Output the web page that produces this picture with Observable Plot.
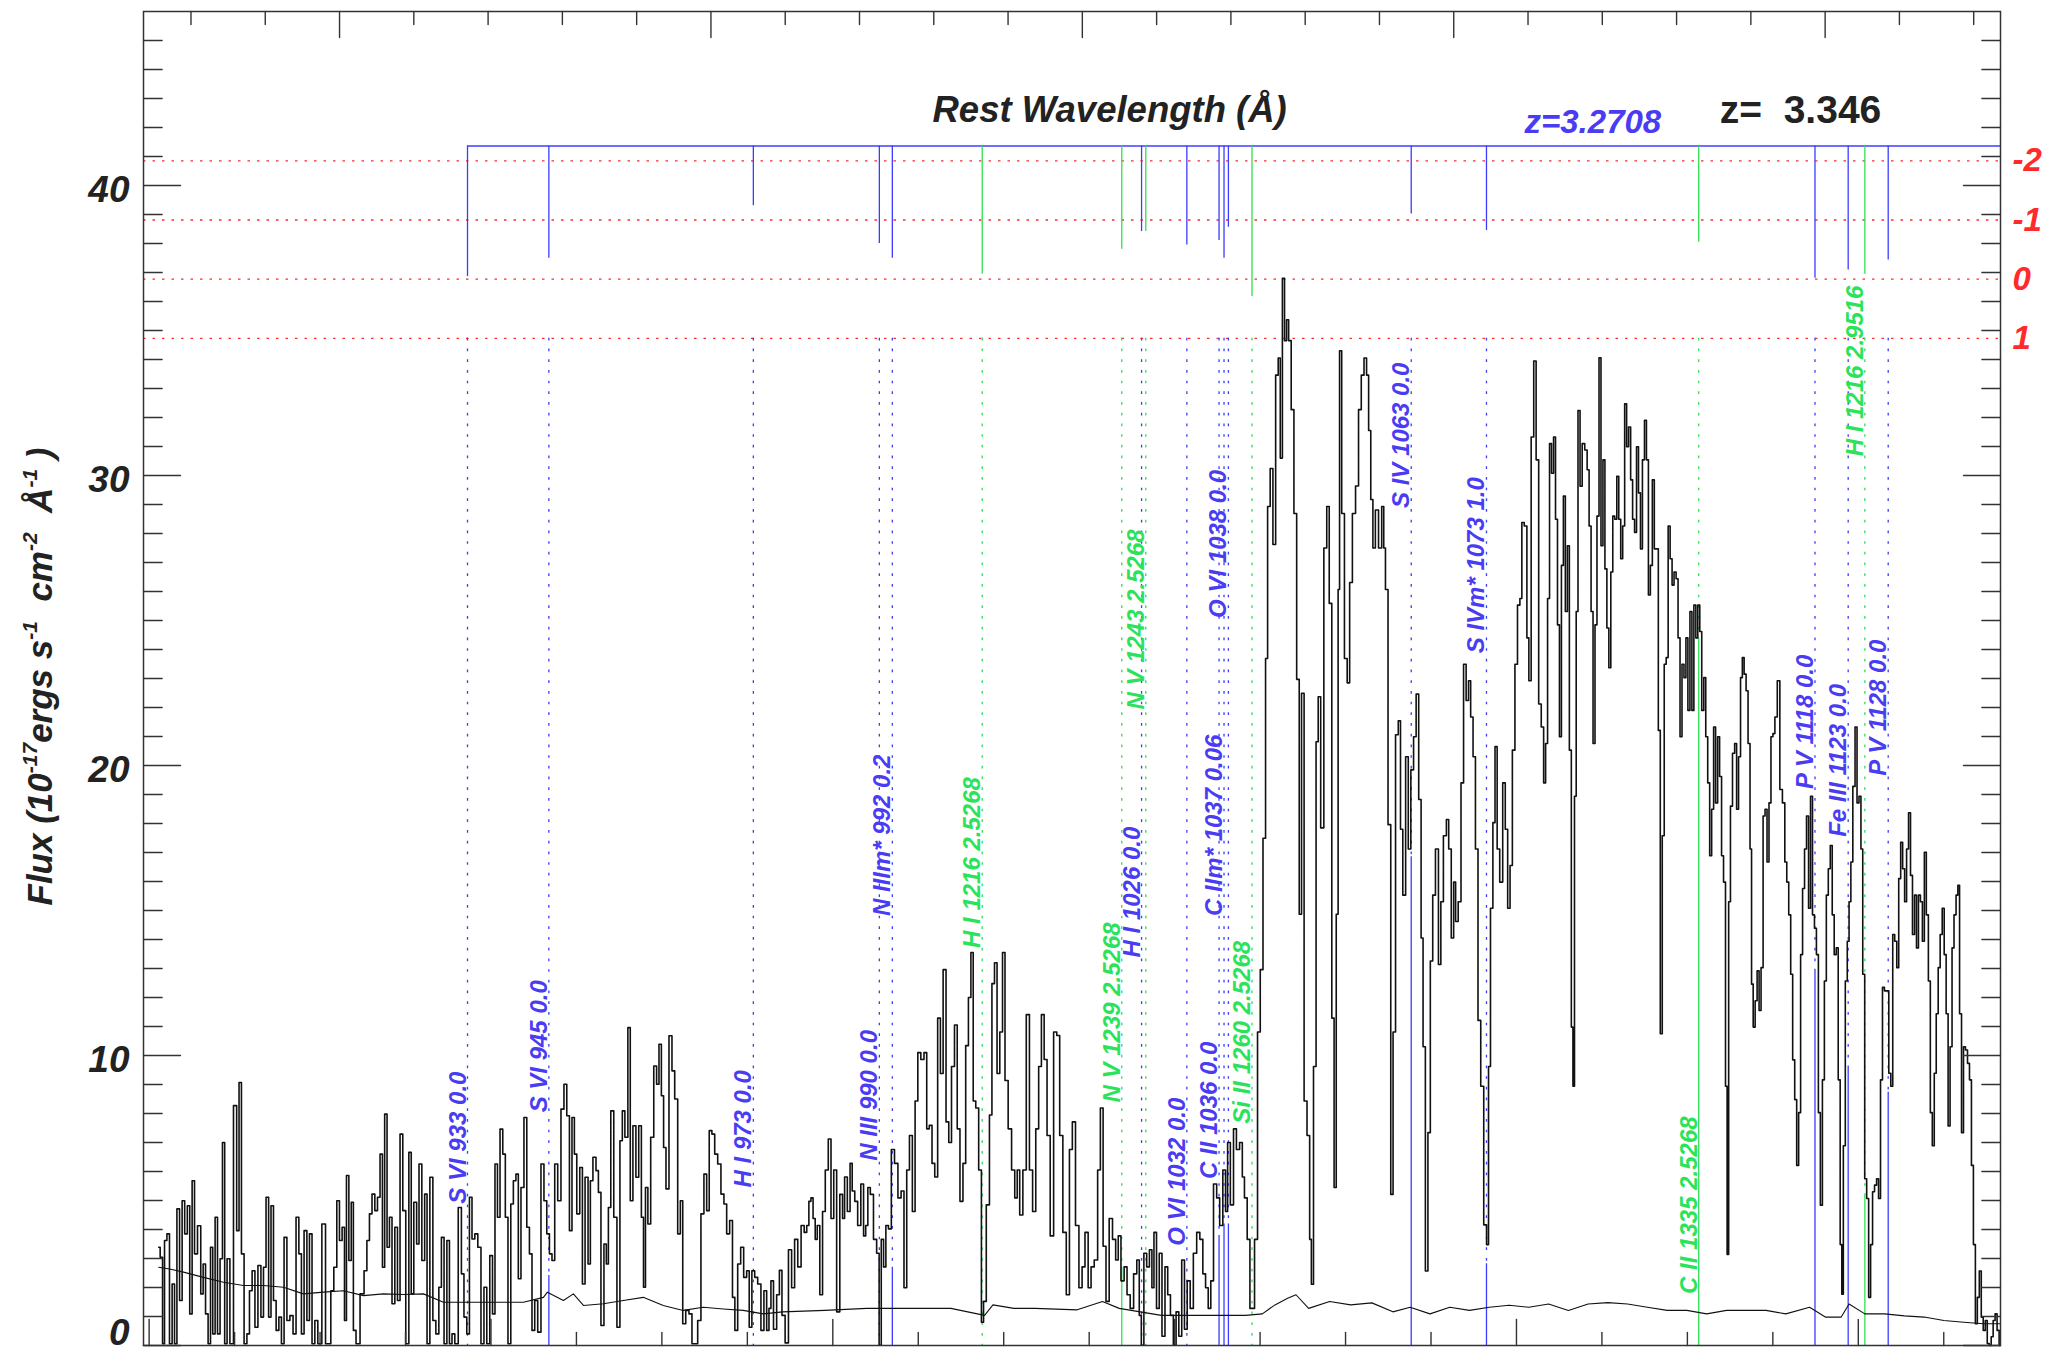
<!DOCTYPE html>
<html><head><meta charset="utf-8">
<script src="https://cdn.jsdelivr.net/npm/d3@7"></script>
<script src="https://cdn.jsdelivr.net/npm/@observablehq/plot@0.6"></script>
<style>html,body{margin:0;padding:0;background:#fff;} svg{display:block;}</style>
</head><body><div id="chart"></div>
<script>
// ---------------- data ----------------
// observed wavelength (Å) and flux (1e-17 erg/s/cm2/Å) of the spectrum
const specWave = [
3805.6,3807.3,3808.4,3809.6,3811.2,3812.6,3814.3,3815.4,3817.1,3818.5,
3820.1,3821.5,3823.2,3824.3,3826.0,3827.1,3829.5,3830.9,3832.3,3833.7,
3835.3,3836.5,3837.9,3839.3,3840.7,3842.3,3843.5,3844.9,3846.3,3848.2,
3850.5,3851.9,3853.3,3854.7,3856.4,3858.0,3859.4,3861.1,3862.7,3864.6,
3866.2,3867.6,3869.2,3870.6,3872.0,3873.5,3875.1,3876.7,3878.1,3879.8,
3881.4,3883.3,3885.1,3886.8,3888.4,3889.8,3891.5,3893.1,3894.5,3896.1,
3897.8,3899.6,3902.5,3903.9,3905.5,3907.1,3909.0,3910.6,3912.1,3913.7,
3914.9,3916.0,3917.7,3918.8,3920.2,3921.9,3924.9,3926.6,3928.2,3929.6,
3931.2,3932.9,3934.3,3935.9,3937.1,3938.5,3939.9,3941.3,3942.9,3944.6,
3946.0,3947.6,3949.2,3951.1,3952.8,3953.9,3955.8,3957.2,3958.6,3960.5,
3961.9,3963.3,3965.2,3966.8,3968.7,3970.3,3971.7,3973.4,3975.0,3976.4,
3978.0,3979.7,3982.0,3983.4,3985.0,3986.7,3988.1,3989.7,3991.4,3993.2,
3995.1,3996.7,3998.4,4000.2,4001.6,4003.1,4004.5,4006.1,4007.7,4009.1,
4010.8,4012.4,4013.8,4015.4,4016.6,4018.5,4020.1,4021.8,4023.2,4024.8,
4026.4,4028.3,4030.2,4031.8,4033.5,4034.9,4036.5,4038.1,4040.0,4041.9,
4043.5,4045.2,4046.6,4048.2,4049.4,4051.0,4052.9,4054.1,4056.0,4057.6,
4058.7,4060.6,4062.3,4063.4,4065.3,4066.9,4068.1,4069.3,4070.9,4072.8,
4074.6,4076.3,4077.4,4079.3,4080.9,4082.1,4084.0,4085.6,4087.3,4088.7,
4089.8,4091.0,4092.6,4094.3,4096.2,4097.6,4099.0,4100.4,4101.6,4103.2,
4105.1,4106.7,4108.3,4110.2,4111.4,4113.0,4114.9,4116.8,4118.4,4120.0,
4121.9,4123.8,4125.4,4127.0,4128.4,4130.1,4131.7,4133.6,4135.5,4137.1,
4138.7,4140.6,4142.0,4143.4,4145.3,4146.9,4148.8,4150.4,4151.8,4153.5,
4155.1,4157.0,4158.9,4160.5,4162.1,
4163.2,4164.4,4166.2,4168.1,4169.4,4171.1,4173.1,4175.0,4176.8,4178.5,
4180.5,4182.4,4184.1,4185.4,4186.6,4187.8,4189.1,4190.3,4191.5,4193.3,
4194.7,4196.5,4198.2,4199.7,4201.4,4203.1,4205.1,4206.3,4207.5,4209.5,
4210.7,4212.0,4213.7,4215.4,4217.4,4218.6,4219.9,4221.1,4222.8,4224.8,
4226.5,4227.7,4229.0,4230.4,4231.7,4233.4,4235.1,4237.1,4239.1,4240.8,
4242.5,4244.0,4245.7,4247.4,4248.9,4250.6,4252.4,4254.3,4255.6,4257.3,
4258.8,4260.5,4262.2,4263.7,4265.4,4267.1,4268.6,4270.3,4272.1,4273.5,
4275.3,4277.0,4278.5,4280.2,4281.4,4282.9,4284.4,4286.3,4287.6,4288.8,
4290.8,4292.5,4293.7,4295.5,4296.7,4298.7,4299.9,4301.6,4303.6,4305.6,
4307.3,4308.5,4310.2,4312.2,4314.2,4315.9,4317.9,4319.6,4321.3,4322.8,
4324.5,4326.2,4328.2,4330.2,4331.9,4333.6,4335.6,4337.6,4339.3,4341.0,
4343.0,4345.0,4346.7,4348.4,4350.4,4351.8,4354.1,4355.8,4357.3,4359.0,
4360.7,4362.7,4364.6,4366.4,4367.6,4369.6,4371.3,4373.0,4375.0,4377.0,
4378.7,4379.9,4381.1,4382.9,4384.4,4386.1,4387.3,4388.5,4390.3,4391.7,
4393.5,4395.2,4396.7,4398.4,4400.1,4401.6,4403.3,4405.0,4406.5,4408.2,
4410.0,4411.9,4413.9,4415.6,4417.4,4418.8,4420.5,4421.8,4423.7,4425.5,
4427.2,4429.2,4430.4,4431.6,4433.6,4435.3,4437.0,4439.0,4440.2,4441.5,
4443.4,4444.7,4445.9,4447.6,4449.4,4450.8,4452.6,4453.8,4455.0,4456.8,
4458.2,4460.0,4461.2,4462.4,4463.7,4464.9,4466.1,4467.3,4469.1,4470.5,
4472.3,4473.5,4475.0,4476.5,4478.4,4479.6,4480.4,4482.1,4483.4,4484.6,
4486.3,4488.3,4489.7,4491.2,4492.7,4493.9,4495.2,4496.1,4496.9,4498.6,
4500.1,4501.8,4503.0,4505.0,4506.7,4508.5,4509.9,4511.7,4512.9,4514.1,
4515.4,4516.6,4518.3,4520.3,4522.0,4522.7,4524.0,4525.7,4527.2,4528.4,
4530.1,4531.6,
4532.7,4534.3,4536.0,4537.4,4539.0,4540.6,4542.0,4543.6,4544.8,4545.9,
4547.5,4548.9,4550.3,4551.7,4553.5,4555.2,4556.3,4558.2,4559.8,4560.9,
4562.8,4563.7,4565.1,4566.7,4568.4,4569.7,4571.4,4572.5,4573.9,4575.3,
4576.7,4578.3,4579.9,4581.8,4583.2,4584.1,4585.5,4586.9,4588.0,4589.4,
4591.0,4592.9,4594.0,4595.7,4596.8,4598.4,4599.8,4601.4,4602.6,4603.7,
4605.4,4606.8,4607.7,4609.5,4610.7,4612.3,4613.7,4615.3,4616.5,4617.6,
4618.8,4619.9,4621.1,4622.3,4623.4,4624.6,4625.7,4626.9,4628.0,4629.2,
4630.4,4631.5,4632.7,4633.4,4634.5,4635.4,4636.6,4637.8,4639.1,4640.8,
4641.9,4643.1,4644.2,4645.4,4646.5,4647.7,4648.9,4650.0,4651.2,4652.3,
4653.5,4654.6,4655.8,4656.9,4658.1,4659.3,4660.4,4661.6,4662.7,4663.9,
4665.0,4666.2,4667.4,4668.5,4669.7,4670.8,4672.0,4673.1,4674.3,4675.5,
4676.6,4677.8,4678.9,4680.1,4681.2,4682.4,4683.6,4684.7,4685.9,4687.0,
4688.2,4689.3,4690.5,4691.6,4692.8,4694.0,4695.1,4696.3,4697.4,4698.6,
4699.7,4700.9,4702.1,4703.2,4704.4,4705.5,4706.7,4707.8,4709.0,4710.2,
4711.3,4712.5,4713.6,4714.8,4715.9,4717.1,4718.3,4719.4,4720.6,4721.7,
4722.9,4723.6,4724.7,4725.7,4727.1,4728.2,4729.4,4730.5,4731.7,4732.6,
4733.8,4734.9,4736.1,4737.2,4737.9,4739.1,4740.2,4741.4,4742.5,4743.7,
4744.9,4746.0,4747.2,4748.3,4749.5,4750.6,4751.8,4753.4,4754.8,4756.4,
4757.6,4758.7,4759.9,4761.0,4762.2,4763.4,4764.5,4765.7,4766.8,4768.0,
4769.1,4770.3,4771.5,4772.6,4773.8,4774.9,4776.1,4777.2,4778.4,4779.6,
4780.7,4781.9,4783.0,4784.2,4785.3,4786.5,4787.7,4788.8,4790.0,4790.7,
4791.8,4793.0,4794.1,4795.1,4796.2,4797.4,4798.8,4799.7,4801.1,4802.0,
4803.2,4804.3,4805.5,4806.6,4807.8,4808.9,4810.1,4811.3,4812.4,4813.6,
4814.7,4815.9,4817.3,4818.4,4819.6,4820.7,4821.9,4823.1,4824.2,4825.4,
4826.5,4827.7,4828.8,4830.0,4831.1,4832.3,4833.5,4834.6,4835.8,4836.9,
4838.1,4839.2,4840.4,4841.6,4842.7,4843.9,4845.0,4846.2,4847.3,4848.5,
4849.7,4850.8,4852.0,4853.1,4854.3,4855.4,4856.6,4857.8,4858.7,4859.8,
4861.0,4862.1,4863.3,4864.5,4865.6,4866.8,4867.9,4869.1,4870.2,4871.4,
4872.5,4873.7,4874.9,4876.0,4877.2,4878.3,4879.5,4880.6,4881.8,4883.0
];
const specFlux = [
3.39,3.04,0.06,3.62,3.85,0.06,2.12,0.06,4.71,1.55,
4.99,3.85,4.82,1.09,5.68,3.16,4.13,1.78,2.81,1.09,
0.06,3.39,0.40,4.42,0.40,2.99,7.00,0.06,2.99,0.06,
8.27,3.96,9.07,3.16,0.06,0.40,1.89,2.58,0.63,2.76,
0.98,2.70,5.11,0.98,4.82,1.55,0.52,0.98,0.06,3.73,
0.86,1.03,0.40,4.42,3.16,0.40,3.96,0.86,3.85,0.06,
0.86,0.06,4.19,0.06,0.06,1.89,2.70,4.99,3.62,4.08,
0.86,5.86,2.93,4.94,0.52,0.06,1.78,2.58,3.62,4.54,
5.22,4.65,5.11,6.60,2.70,7.98,3.39,4.42,1.44,4.08,
1.55,7.29,4.65,0.06,6.66,1.78,4.94,3.50,6.26,2.93,
5.22,0.06,5.80,0.86,0.40,2.01,3.73,0.06,3.62,0.06,
0.40,0.06,4.76,2.47,0.98,0.40,5.11,3.67,3.85,3.39,
0.06,2.01,0.06,3.10,1.09,6.26,4.42,7.46,6.60,4.42,
0.06,4.88,5.68,5.91,2.30,5.45,7.86,4.08,3.16,0.52,
1.55,0.46,6.26,4.99,3.85,3.16,2.93,6.26,4.99,8.15,
9.01,7.92,3.96,7.86,6.60,4.54,6.14,2.12,5.80,2.81,
5.68,6.49,6.03,5.28,0.69,3.50,2.81,4.76,8.09,4.42,
0.63,7.06,8.09,7.18,10.96,4.99,7.58,5.80,7.58,4.42,
2.01,5.45,4.19,7.18,9.64,9.01,10.39,8.61,6.83,5.40,
10.68,9.47,8.50,3.85,4.99,0.75,1.21,1.09,0.06,0.06,
0.86,4.54,5.91,4.65,7.41,7.29,6.60,6.26,5.22,4.88,
3.85,4.31,1.66,0.52,2.81,3.39,2.35,2.58,0.63,2.58,
2.35,2.12,0.52,1.89,0.52,
1.28,2.23,0.56,1.75,2.59,1.04,0.09,3.30,1.99,3.66,
2.71,4.14,3.90,4.14,4.97,5.09,4.38,3.66,4.14,1.75,
4.62,6.05,7.12,4.38,6.05,1.16,5.21,4.38,5.81,4.62,
6.28,5.33,4.97,4.14,5.57,3.78,4.14,5.45,5.21,3.66,
3.18,0.01,3.66,2.71,4.14,4.02,6.76,6.28,5.09,5.33,
1.99,6.05,7.24,4.62,8.43,10.10,9.86,10.10,7.47,7.59,
6.28,5.81,11.29,9.38,12.96,7.71,7.00,9.62,11.05,7.47,
4.97,6.28,10.34,12.00,13.55,8.43,8.19,6.05,0.80,1.52,
4.85,7.95,12.48,13.20,9.38,10.81,13.55,9.14,7.47,6.05,
5.09,6.05,4.50,6.05,11.41,6.05,4.62,7.47,9.62,11.41,
9.86,7.24,3.78,10.81,10.69,7.24,3.90,1.75,6.76,7.71,
4.14,1.99,2.71,3.90,1.99,2.71,2.95,6.05,8.19,3.42,
1.52,4.38,3.66,2.95,3.78,2.23,2.71,1.75,1.28,2.47,
2.95,1.04,0.01,3.18,2.71,3.30,1.99,3.90,1.28,3.18,
0.32,2.71,1.75,1.04,0.01,1.16,0.32,2.95,0.56,2.23,
1.28,3.18,3.90,3.66,2.47,1.99,1.28,2.23,5.57,5.09,
4.14,6.05,4.62,7.00,4.85,7.47,6.76,7.00,5.81,5.09,
3.66,1.28,1.28,3.66,10.81,12.96,17.49,23.69,28.93,30.24,
27.62,33.46,34.05,30.60,36.80,34.65,35.37,34.65,32.27,28.69,
22.97,14.87,22.49,8.43,7.24,3.66,2.11,9.62,20.82,22.37,
17.85,27.50,28.93,25.59,11.29,5.45,14.87,26.07,34.30,28.69,
23.69,22.85,26.31,28.69,29.64,32.27,33.46,34.05,33.46,31.55,
29.17,27.50,28.81,27.50,28.93,27.50,26.07,17.96,5.21,10.81,
21.06,21.54,
17.80,15.53,20.30,17.12,19.85,20.99,22.46,18.83,14.05,10.30,
2.57,7.34,13.26,15.53,17.12,13.14,15.30,17.58,18.14,17.12,
14.05,15.98,14.62,15.30,19.40,23.49,22.24,22.92,21.67,20.30,
17.12,11.21,8.94,4.16,3.48,9.62,15.08,18.03,20.65,17.12,
15.98,19.40,17.80,15.08,16.55,20.53,23.49,25.53,25.76,28.38,
28.26,24.40,22.92,31.33,33.95,30.54,22.12,21.33,19.40,20.76,
25.76,31.10,30.08,31.33,28.49,24.85,20.99,26.90,29.29,25.31,
27.58,20.53,10.98,8.94,18.94,25.31,32.24,29.63,31.10,30.88,
30.20,28.26,25.31,20.76,24.85,28.60,34.06,27.58,30.54,26.78,
24.74,23.37,26.67,28.60,28.49,29.97,28.49,27.13,28.26,32.47,
30.99,31.67,29.85,28.49,28.04,30.99,29.40,27.47,30.54,31.90,
30.54,25.88,26.90,29.85,27.47,27.47,21.21,10.75,17.58,23.49,
23.72,28.26,27.13,26.22,26.67,26.44,24.40,20.99,23.49,23.03,
24.40,21.90,25.31,21.90,25.53,24.40,25.53,24.62,21.90,23.03,
20.99,19.40,16.89,18.49,21.33,18.71,20.99,19.62,16.89,15.98,
8.94,3.14,15.30,18.60,20.42,20.76,18.49,20.30,23.03,23.72,
23.15,22.58,20.76,17.12,12.46,10.98,11.89,12.92,11.55,13.03,
18.26,18.49,16.67,18.71,20.99,21.10,21.67,22.92,19.17,18.71,
16.67,15.98,14.85,12.80,9.85,8.48,6.21,8.03,13.48,15.76,
17.12,18.26,15.08,18.94,14.85,14.39,13.48,8.03,4.84,9.16,
12.57,15.53,16.44,17.24,14.85,13.48,13.71,9.16,3.48,1.77,
6.89,12.57,13.94,15.30,16.67,19.28,21.33,18.71,18.94,17.12,
12.80,5.75,5.07,1.66,3.48,5.30,5.53,5.75,5.07,9.16,
12.35,12.23,12.23,9.39,8.94,14.17,13.94,13.03,16.10,17.35,
16.44,15.30,17.12,18.37,16.21,14.17,15.53,13.71,15.53,15.30,
13.94,17.01,14.85,12.57,8.03,6.89,9.39,11.44,13.03,14.17,
15.08,13.48,11.44,7.57,10.30,13.71,14.85,15.53,15.87,11.44,
7.34,10.30,10.19,9.73,9.16,6.21,3.48,0.75,1.66,2.57,
0.98,0.52,0.86,0.07,0.00,0.30,0.86,1.09,0.52,0.00
];
// error spectrum
const errWave = [3805.6,3811.9,3820.1,3831.8,3843.5,3855.2,3866.9,3878.6,3890.3,3902.0,3913.7,3925.4,3937.1,3948.8,3960.5,3972.2,3983.9,3995.6,4007.3,4019.0,4030.7,4033.0,4042.4,4048.2,4054.1,4065.8,4077.4,4089.1,4100.8,4112.5,4124.2,4136.0,4147.6,4159.3,
4170.6,4195.2,4219.9,4244.5,4269.1,4288.8,4293.7,4306.0,4318.4,4343.0,4357.8,4367.6,4379.9,4392.2,4416.9,4441.5,4451.3,4458.7,4466.1,4471.0,4478.4,4490.7,4503.0,4515.4,4527.7,
4537.8,4549.4,4561.0,4572.5,4584.1,4595.7,4607.2,4618.8,4630.4,4641.9,4653.5,4665.0,4676.6,4688.2,4699.7,4711.3,4722.9,4734.4,4746.0,4757.6,4771.5,4780.7,4790.0,4794.6,4803.8,4815.4,4827.0,4838.5,4850.1,4861.7,4873.2,4883.0];
const errFlux = [2.70,2.64,2.53,2.35,2.18,2.07,2.07,2.01,1.78,1.84,1.89,1.72,1.78,1.76,1.78,1.49,1.49,1.49,1.49,1.49,1.66,1.84,1.55,1.78,1.38,1.44,1.55,1.66,1.38,1.21,1.32,1.26,1.21,1.09,
1.16,1.21,1.28,1.28,1.28,1.04,1.40,1.28,1.28,1.23,1.52,1.28,1.16,1.04,1.04,1.04,1.09,1.40,1.63,1.75,1.28,1.52,1.40,1.47,1.16,
1.32,1.09,1.32,1.21,1.32,1.39,1.32,1.43,1.21,1.43,1.48,1.43,1.32,1.21,1.21,1.09,1.21,1.21,1.21,1.09,1.32,0.98,0.98,1.43,1.09,1.09,1.02,0.98,0.86,0.80,0.75,0.75];

// absorption line identifications
const lineLabel = ["S VI 933 0.0","S VI 945 0.0","H I 973 0.0","N III 990 0.0","N IIIm* 992 0.2","H I 1026 0.0","O VI 1032 0.0","C II 1036 0.0","C IIm* 1037 0.06","O VI 1038 0.0","S IV 1063 0.0","S IVm* 1073 1.0","P V 1118 0.0","Fe III 1123 0.0","P V 1128 0.0",
  "H I 1216 2.5268","N V 1239 2.5268","N V 1243 2.5268","Si II 1260 2.5268","C II 1335 2.5268","H I 1216 2.9516"];
const lineRest = [933.378,944.523,972.537,989.799,991.577,1025.722,1031.926,1036.337,1037.018,1037.617,1062.664,1072.973,1117.977,1122.526,1128.008,
  1215.670,1238.821,1242.804,1260.422,1334.532,1215.670];
const lineZ = [3.2708,3.2708,3.2708,3.2708,3.2708,3.2708,3.2708,3.2708,3.2708,3.2708,3.2708,3.2708,3.2708,3.2708,3.2708,
  2.5268,2.5268,2.5268,2.5268,2.5268,2.9516];
const lineDepth = [36.86,37.49,39.30,38.00,37.49,38.41,37.95,38.10,37.49,38.56,39.02,38.45,36.80,37.09,37.43,
  36.94,37.80,38.41,36.17,38.04,36.94];
const lineSolid = [0,2.41,0,0,2.70,0,0,3.79,4.19,4.19,16.85,2.82,12.97,9.59,8.73,
  0,2.70,0,0,24.39,5.23];
const lineLabelFlux = [4.89,8.04,5.45,6.37,14.81,13.38,3.44,5.74,14.81,25.09,28.88,23.87,19.19,17.54,19.65,
  13.71,8.38,21.93,7.65,1.78,30.66];

const zAbs = 3.2708, zEm = 3.346;
const stickTop = 41.36;
const levelNames = ["-2","-1","0","1"];
const levelFlux = [40.85,38.81,36.77,34.73];
const yMajor = [0,10,20,30,40];
const yMajorLabels = ["0","10","20","30","40"];
const yMinor = [1,2,3,4,5,6,7,8,9,11,12,13,14,15,16,17,18,19,21,22,23,24,25,26,27,28,29,31,32,33,34,35,36,37,38,39,41,42,43,44,45];
const restMajor = [900,950,1000,1050,1100];
const restMinor = [880,890,910,920,930,940,960,970,980,990,1010,1020,1030,1040,1060,1070,1080,1090,1110,1120];
const obsMajor = [3800,4000,4200,4400,4600,4800];
const obsMinor = [3850,3900,3950,4050,4100,4150,4250,4300,4350,4450,4500,4550,4650,4700,4750,4850];
const xDomain = [3796.7, 4883.2];
const yDomain = [0, 46];
const yTitle = "Flux (10^{-17}ergs s^{-1}  cm^{-2}  Å^{-1} )";

// ---------------- build ----------------
const spec = specWave.map((w, i) => ({w, f: specFlux[i]}));
const err = errWave.map((w, i) => ({w, f: errFlux[i]}));
const lines = lineLabel.map((label, i) => ({
  label, obs: lineRest[i] * (1 + lineZ[i]), depth: lineDepth[i],
  solid: lineSolid[i], ly: lineLabelFlux[i], abs: lineZ[i] === zAbs
}));
const blueL = lines.filter(d => d.abs), greenL = lines.filter(d => !d.abs);
const BLUE = "#3c3cff", BLUE_T = "#4a3cf2", GREEN = "#2fe050", GREEN_T = "#2be35a", RED = "#ff2a2a";
const tickShape = {draw(ctx, l) { ctx.moveTo(0, 0); ctx.lineTo(0, -l); }};
const tk = {anchor: "start", shape: tickShape, stroke: "#333", strokeWidth: 1.4, fill: "none"};
const F = {fontWeight: "bold", fontStyle: "italic"};
const x0 = xDomain[0], x1 = xDomain[1];
const firstObs = d3.min(blueL, d => d.obs);
const YT = "__YTITLE__";

function lineMarks(data, col, colT) {
  return [
    Plot.ruleX(data, {x: "obs", y1: stickTop, y2: "depth", stroke: col, strokeWidth: 1.3}),
    Plot.ruleX(data, {x: "obs", y1: levelFlux[3], y2: "solid", stroke: col, strokeWidth: 1.3, strokeDasharray: "2.7,8"}),
    Plot.ruleX(data.filter(d => d.solid > 0), {x: "obs", y1: 0, y2: "solid", stroke: col, strokeWidth: 1.3}),
    Plot.text(data, {x: "obs", y: "ly", text: "label", rotate: -90, textAnchor: "start", lineAnchor: "bottom",
      dx: -2, fill: colT, fontSize: 24, ...F})
  ];
}

const chart = Plot.plot({
  width: 2049, height: 1355,
  marginLeft: 143, marginRight: 49, marginTop: 11, marginBottom: 10,
  x: {domain: xDomain, axis: null},
  y: {domain: yDomain, axis: null},
  style: {background: "#fff", fontFamily: "'Liberation Sans', Arial, Helvetica, sans-serif", overflow: "visible"},
  marks: [
    Plot.ruleY(levelFlux, {stroke: RED, strokeWidth: 1.3, strokeDasharray: "2.5,7"}),
    Plot.ruleY([stickTop], {x1: firstObs, x2: x1, stroke: BLUE, strokeWidth: 1.6}),
    ...lineMarks(blueL, BLUE, BLUE_T),
    ...lineMarks(greenL, GREEN, GREEN_T),
    Plot.line(err, {x: "w", y: "f", stroke: "#111", strokeWidth: 1.1}),
    Plot.line(spec, {x: "w", y: "f", curve: "step", stroke: "#111", strokeWidth: 1.6}),
    // inward ticks
    Plot.vector(yMajor, {x: x0, y: d => d, length: 37, rotate: 90, ...tk}),
    Plot.vector(yMinor, {x: x0, y: d => d, length: 18.6, rotate: 90, ...tk}),
    Plot.vector(yMajor, {x: x1, y: d => d, length: 37, rotate: -90, ...tk}),
    Plot.vector(yMinor, {x: x1, y: d => d, length: 18.6, rotate: -90, ...tk}),
    Plot.vector(restMajor, {x: d => d * (1 + zEm), y: yDomain[1], length: 26, rotate: 180, ...tk}),
    Plot.vector(restMinor, {x: d => d * (1 + zEm), y: yDomain[1], length: 13, rotate: 180, ...tk}),
    Plot.vector(obsMajor, {x: d => d, y: 0, length: 26, rotate: 0, ...tk}),
    Plot.vector(obsMinor, {x: d => d, y: 0, length: 13, rotate: 0, ...tk}),
    // y tick labels
    Plot.text(yMajor.slice(1), {x: x0, y: d => d, text: (d, i) => yMajorLabels[i + 1], dx: -14, dy: 4.5,
      textAnchor: "end", lineAnchor: "middle", fontSize: 37, fill: "#222", ...F}),
    Plot.text(yMajor.slice(0, 1), {x: x0, y: d => d, text: (d, i) => yMajorLabels[i], dx: -14, dy: -12,
      textAnchor: "end", lineAnchor: "middle", fontSize: 37, fill: "#222", ...F}),
    // right-hand red level labels
    Plot.text(levelNames, {x: x1, y: (d, i) => levelFlux[i], text: d => d, dx: 12, textAnchor: "start",
      lineAnchor: "middle", fontSize: 33, fill: RED, ...F}),
    // annotations
    Plot.text(["Rest Wavelength (Å)"], {frameAnchor: "top-left", dx: 789, dy: 99, textAnchor: "start",
      lineAnchor: "middle", fontSize: 36.5, fill: "#222", ...F}),
    Plot.text(["z=3.2708"], {frameAnchor: "top-left", dx: 1381, dy: 111, textAnchor: "start",
      lineAnchor: "middle", fontSize: 33, fill: BLUE_T, ...F}),
    Plot.text(["z=  3.346"], {frameAnchor: "top-left", dx: 1657, dy: 99, textAnchor: "middle",
      lineAnchor: "middle", fontSize: 39, fill: "#222", fontWeight: "bold"}),
    Plot.text([YT], {frameAnchor: "left", dx: -92, dy: -2, rotate: -90, textAnchor: "middle",
      lineAnchor: "bottom", fontSize: 35, fill: "#222", ...F}),
    Plot.frame({stroke: "#333", strokeWidth: 1.5})
  ]
});
document.getElementById("chart").appendChild(chart);

// y-axis title with superscripts (parsed from yTitle: ^{...} = superscript)
const yl = Array.from(chart.querySelectorAll("text")).find(t => t.textContent === YT);
if (yl) {
  const parts = yTitle.split(/\^\{([^}]*)\}/);
  let html = "";
  parts.forEach((p, i) => {
    if (i % 2 === 1) html += `<tspan dy="-15" font-size="21">${p}</tspan>`;
    else html += i === 0 ? `<tspan>${p}</tspan>` : `<tspan dy="15">${p}</tspan>`;
  });
  yl.setAttribute("style", "white-space:pre");
  yl.innerHTML = html;
}
</script>
</body></html>
